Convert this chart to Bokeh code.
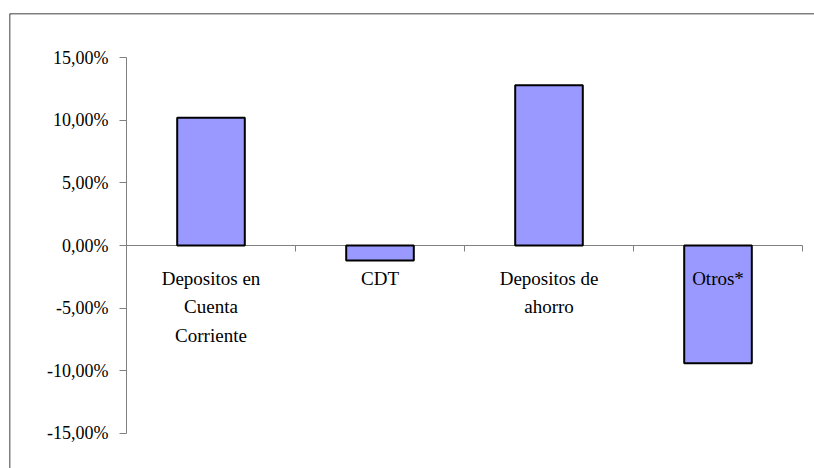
from bokeh.plotting import figure
from bokeh.models import Range1d, LinearAxis, FixedTicker, Span, ColumnDataSource
from bokeh.core.properties import value
from bokeh.embed import file_html
from bokeh.resources import INLINE

# ---- data ----
categories = ["Depositos en\nCuenta\nCorriente", "CDT", "Depositos de\nahorro", "Otros*"]
values_pct = [10.2, -1.2, 12.8, -9.4]
tick_values = [-15, -10, -5, 0, 5, 10, 15]
tick_labels = ["-15,00%", "-10,00%", "-5,00%", "0,00%", "5,00%", "10,00%", "15,00%"]

FONT = "Liberation Serif"

x_pos = [i + 0.5 for i in range(len(categories))]
src = ColumnDataSource(dict(x=x_pos, top=values_pct, label=categories))

x_start, x_end = -0.6923, 4.071
y_start, y_end = -17.81, 18.53

p = figure(width=814, height=468, output_backend="svg", toolbar_location=None,
           x_range=Range1d(x_start, x_end), y_range=Range1d(y_start, y_end),
           x_axis_location=None, y_axis_location=None,
           min_border_left=9, min_border_top=13, min_border_right=0, min_border_bottom=0)
p.outline_line_color = None
p.background_fill_color = "white"
p.border_fill_color = "white"
p.grid.visible = False

# bars
p.vbar(x="x", top="top", bottom=0, width=0.4, source=src,
       fill_color="#9999FF", line_color="black", line_width=2)

# y axis at x = 0
yaxis = LinearAxis(fixed_location=0, ticker=FixedTicker(ticks=tick_values),
                   bounds=(tick_values[0], tick_values[-1]))
yaxis.major_label_overrides = {v: l for v, l in zip(tick_values, tick_labels)}
yaxis.axis_line_color = "#808080"
yaxis.major_tick_line_color = "#808080"
yaxis.major_tick_in = 0
yaxis.major_tick_out = 7
yaxis.minor_tick_line_color = None
yaxis.major_label_text_font = FONT
yaxis.major_label_text_font_size = "18px"
yaxis.major_label_text_color = "black"
yaxis.major_label_standoff = 11
p.add_layout(yaxis, "left")

# x axis at y = 0 (category boundaries)
boundaries = list(range(len(categories) + 1))
xaxis = LinearAxis(fixed_location=0, ticker=FixedTicker(ticks=boundaries),
                   bounds=(boundaries[0], boundaries[-1]))
xaxis.major_label_overrides = {b: "" for b in boundaries}
xaxis.axis_line_color = "#808080"
xaxis.major_tick_line_color = "#808080"
xaxis.major_tick_in = 0
xaxis.major_tick_out = 6
xaxis.minor_tick_line_color = None
xaxis.level = "underlay"
p.add_layout(xaxis, "below")

# category labels
p.text(x="x", y=0, text="label", source=src, text_font=value(FONT),
       text_font_size="19px", text_align="center", text_baseline="top",
       y_offset=22, text_line_height=1.38, text_color="black")

# chart border (left and top)
p.add_layout(Span(location=y_end, dimension="width", line_color="black", line_width=1.5))
p.add_layout(Span(location=x_start, dimension="height", line_color="black", line_width=1.5))

open("out.html", "w").write(file_html(p, INLINE))
